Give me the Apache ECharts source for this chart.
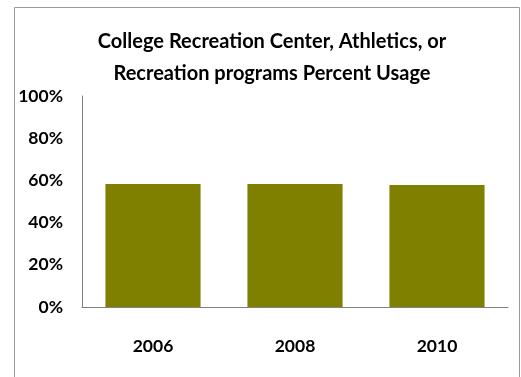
<!DOCTYPE html>
<html><head><meta charset="utf-8">
<script src="https://cdn.jsdelivr.net/npm/echarts@6/dist/echarts.min.js"></script>
<style>html,body{margin:0;padding:0;background:#fff;}#c{width:521px;height:377px;}</style>
</head><body><div id="c"></div>
<script>
var categories = ['2006', '2008', '2010'];
var usage = [58.3, 58.3, 57.8];
var yTicks = [0, 20, 40, 60, 80, 100];

var chart = echarts.init(document.getElementById('c'), null, {renderer: 'canvas'});
var font = 'Lato, "Open Sans", sans-serif';
chart.setOption({
  animation: false,
  backgroundColor: '#fff',
  graphic: [{
    type: 'rect', silent: true, z: -1,
    shape: {x: 14.5, y: 7.5, width: 505, height: 380},
    style: {fill: '#fff', stroke: '#9a9a9a', lineWidth: 1}
  }],
  title: {
    text: 'College Recreation Center, Athletics, or\nRecreation programs Percent Usage',
    left: 267, textAlign: 'center', top: 21,
    textStyle: {fontFamily: font, fontWeight: 'bold', fontSize: 20, color: '#000', lineHeight: 32}
  },
  grid: {left: 82, right: 13, top: 96, bottom: 70, containLabel: false},
  xAxis: {
    type: 'category', data: categories,
    axisLine: {lineStyle: {color: '#808080', width: 1}},
    axisTick: {show: false},
    axisLabel: {fontFamily: font, fontWeight: 'bold', fontSize: 17.5, color: '#000', margin: 30}
  },
  yAxis: {
    type: 'value', min: yTicks[0], max: yTicks[yTicks.length - 1], interval: 20,
    axisLine: {show: true, lineStyle: {color: '#808080', width: 1}},
    axisTick: {show: false},
    splitLine: {show: false},
    axisLabel: {fontFamily: font, fontWeight: 'bold', fontSize: 17.5, color: '#000', margin: 19,
      formatter: function (v) { return v + '%'; }}
  },
  series: [{
    type: 'bar', data: usage, barCategoryGap: '33%',
    itemStyle: {color: '#808000'}
  }]
});
</script></body></html>
